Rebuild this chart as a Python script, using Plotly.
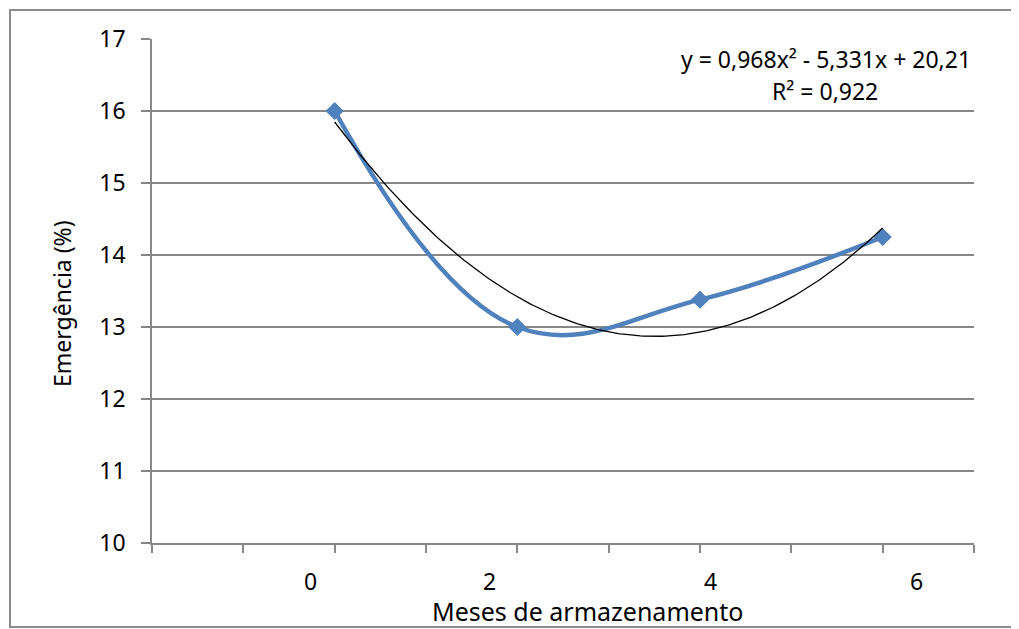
import numpy as np
import plotly.graph_objects as go

# Data
x_index = [1, 2, 3, 4]              # position of each storage time on the chart axis
months_labels = ["0", "2", "4", "6"]  # tick labels (months of storage)
emergence = [16.0, 13.0, 13.38, 14.25]

# Trendline coefficients (as printed on the chart)
a2, a1, a0 = 0.968, -5.331, 20.21
r2 = 0.922

label_pos = [0.865, 1.845, 3.06, 4.187]

FONT = "Noto Sans"
GRID = "#878787"
BLUE = "#4F81BD"

# page has an 8px body margin; plot area on screen: x 152..974, y 39..543
OFF = 8
PL, PR, PT, PB = 152, 974, 39, 543
W, H = 1019 - OFF, 629 - OFF

xt = np.linspace(x_index[0], x_index[-1], 200)
yt = a2 * xt**2 + a1 * xt + a0

fig = go.Figure()
fig.add_trace(go.Scatter(
    x=x_index, y=emergence, mode="lines+markers",
    line=dict(color=BLUE, width=4.5, shape="spline", smoothing=1.15),
    marker=dict(symbol="diamond", size=14, color=BLUE),
    showlegend=False, hoverinfo="skip"))
fig.add_trace(go.Scatter(
    x=xt, y=yt, mode="lines",
    line=dict(color="black", width=1.3),
    showlegend=False, hoverinfo="skip"))


def ypaper(py):
    return (PB - py) / (PB - PT)


def xpaper(px):
    return (px - PL) / (PR - PL)


annotations = []
for lab, pos in zip(months_labels, label_pos):
    annotations.append(dict(x=pos, y=ypaper(581), xref="x", yref="paper", text=lab,
                            showarrow=False, font=dict(family=FONT, size=23, color="black"),
                            xanchor="center", yanchor="middle"))

eq = f"y = {a2:.3f}x² - {abs(a1):.3f}x + {a0:.2f}".replace(".", ",")
r2txt = f"R² = {r2:.3f}".replace(".", ",")
annotations.append(dict(x=xpaper(973), y=ypaper(59), xref="paper", yref="paper", text=eq,
                        showarrow=False, xanchor="right", yanchor="middle",
                        font=dict(family=FONT, size=23, color="black")))
annotations.append(dict(x=xpaper(825), y=ypaper(91), xref="paper", yref="paper", text=r2txt,
                        showarrow=False, xanchor="center", yanchor="middle",
                        font=dict(family=FONT, size=23, color="black")))
annotations.append(dict(x=xpaper(587), y=ypaper(611), xref="paper", yref="paper",
                        text="Meses de armazenamento", showarrow=False,
                        xanchor="center", yanchor="middle",
                        font=dict(family=FONT, size=25, color="black")))
annotations.append(dict(x=xpaper(62), y=ypaper(304), xref="paper", yref="paper",
                        text="Emergência (%)", showarrow=False, textangle=-90,
                        xanchor="center", yanchor="middle",
                        font=dict(family=FONT, size=23, color="black")))

fig.update_layout(
    width=W, height=H,
    margin=dict(l=PL - OFF, r=W - (PR - OFF), t=PT - OFF, b=H - (PB - OFF)),
    paper_bgcolor="white", plot_bgcolor="white",
    xaxis=dict(range=[0, 4.5], tickvals=list(np.arange(0, 4.51, 0.5)),
               showticklabels=False, ticks="outside", ticklen=8, tickcolor=GRID, tickwidth=1.5,
               showgrid=False, zeroline=False, showline=True, linecolor=GRID, linewidth=1.5),
    yaxis=dict(range=[10, 17], dtick=1, tick0=10, ticks="outside", ticklen=9,
               tickcolor=GRID, tickwidth=1.5, showgrid=True, gridcolor=GRID, gridwidth=1.5,
               zeroline=False, showline=True, linecolor=GRID, linewidth=1.5,
               ticklabelstandoff=11,
               tickfont=dict(family=FONT, size=23, color="black")),
    annotations=annotations,
    shapes=[dict(type="rect", xref="paper", yref="paper",
                 x0=xpaper(10), x1=xpaper(1040), y0=ypaper(627), y1=ypaper(10),
                 line=dict(color="#8C8C8C", width=2), layer="below")],
)

fig.write_html("out.html")
